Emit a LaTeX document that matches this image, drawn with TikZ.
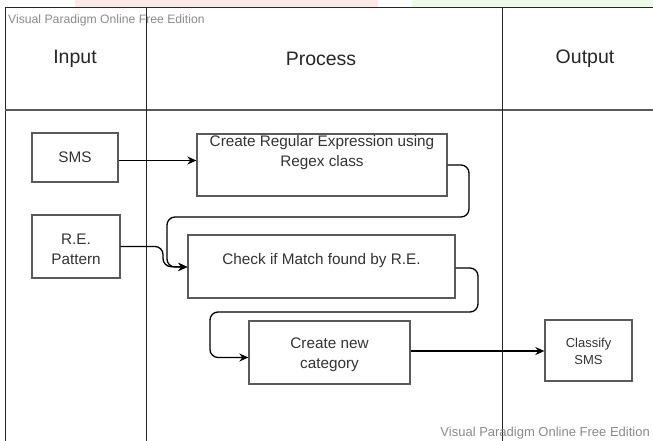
\documentclass[tikz,border=0pt]{standalone}
\usepackage{fontspec}
\setmainfont{Liberation Sans}
\usetikzlibrary{arrows.meta, positioning, calc}
\definecolor{boxline}{HTML}{5A5A5A}
\definecolor{boxink}{HTML}{333333}
\definecolor{markink}{HTML}{8A8A8A}
\definecolor{pinkstrip}{HTML}{FDE9E9}
\definecolor{greenstrip}{HTML}{EEF9E8}
\tikzset{
  procbox/.style={draw=boxline, line width=1.3pt, fill=white,
                  inner sep=0pt},
  boxtext/.style={font=\fontsize{15.3}{20}\selectfont, text=boxink,
                  align=center, inner sep=0pt},
  smalltext/.style={font=\fontsize{13}{17}\selectfont, text=boxink,
                    align=center, inner sep=0pt},
  header/.style={font=\fontsize{19.5}{23}\selectfont, text=black!85,
                 inner sep=0pt},
  watermark/.style={font=\fontsize{12.2}{14}\selectfont, text=markink,
                    inner sep=0pt},
  lane/.style={draw=black!85, line width=1pt},
  flow/.style={draw=black, line width=1.3pt, rounded corners=8pt,
               -{Stealth[length=9pt,width=8pt]}},
}
\begin{document}
\begin{tikzpicture}[x=1pt, y=-1pt]
    \useasboundingbox (0,0) rectangle (653,441);
    %% Strips along the top edge
    \fill[pinkstrip] (75,0) rectangle (378,7);
    \fill[greenstrip] (412,0) rectangle (653,7);
    %% Swimlane frame
    \draw[lane] (5,441) -- (5,8) -- (653,8);
    \draw[lane, draw=black!65, line width=1.6pt] (5,110) -- (653,110);
    \foreach \x in {146,502}{
      \draw[lane] (\x,8) -- (\x,441);
    }
    %% Lane headers
    \node[header] (hin)  at (75,59)  {Input};
    \node[header] (hpro) at (321,59) {Process};
    \node[header] (hout) at (585,59) {Output};
    %% Boxes
    \node[procbox, minimum width=86pt, minimum height=49pt] (sms) at (75,157.5) {};
    \node[procbox, minimum width=88pt, minimum height=63pt] (re) at (76,246.5) {};
    \node[procbox, minimum width=250pt, minimum height=62pt] (cre) at (322,165) {};
    \node[procbox, minimum width=267pt, minimum height=63pt] (check) at (321.5,266.5) {};
    \node[procbox, minimum width=161pt, minimum height=63pt] (cat) at (329.5,352.5) {};
    \node[procbox, minimum width=87pt, minimum height=61pt] (cls) at (588.5,350.5) {};
    %% Box texts (yshift is on the page, so up is positive)
    \node[boxtext] (smstxt) at (sms) {SMS};
    \node[boxtext] (retxt) at ([yshift=-3pt]re.center) {R.E.\\Pattern};
    \node[boxtext] (cretxt) at ([yshift=12pt]cre.center) {Create Regular Expression using\\Regex class};
    \node[boxtext] (checktxt) at ([yshift=6pt]check.center) {Check if Match found by R.E.};
    \node[boxtext] (cattxt) at ([yshift=-2pt]cat.center) {Create new\\category};
    \node[smalltext] (clstxt) at ([yshift=-1pt]cls.center) {Classify\\SMS};
    %% Bend points
    \coordinate (b1) at (469,217);
    \coordinate (b2) at (167,217);
    \coordinate (b3) at (478,312);
    \coordinate (b4) at (210,312);
    %% Connectors
    \draw[flow] ([yshift=-3pt]sms.east) -- ([yshift=-3pt]sms.east -| cre.west);
    \draw[flow] (cre.east) -| (b1) -- (b2) |- ([yshift=-0.5pt]check.west);
    \draw[flow] (re.east) -| ([xshift=-4pt]b2 |- check.west) -- ([yshift=-0.5pt]check.west);
    \draw[flow] ([yshift=-1.5pt]check.east) -| (b3) -- (b4) |- ([yshift=-5pt]cat.west);
    \draw[flow] ([yshift=1.5pt]cat.east) -- ([yshift=1.5pt]cat.east -| cls.west);
    %% Edition marks
    \node[watermark, anchor=west] (mark1) at (8,20) {Visual Paradigm Online Free Edition};
    \node[watermark, anchor=east, font=\fontsize{13}{15}\selectfont] (mark2) at (650,433) {Visual Paradigm Online Free Edition};
\end{tikzpicture}
\end{document}
